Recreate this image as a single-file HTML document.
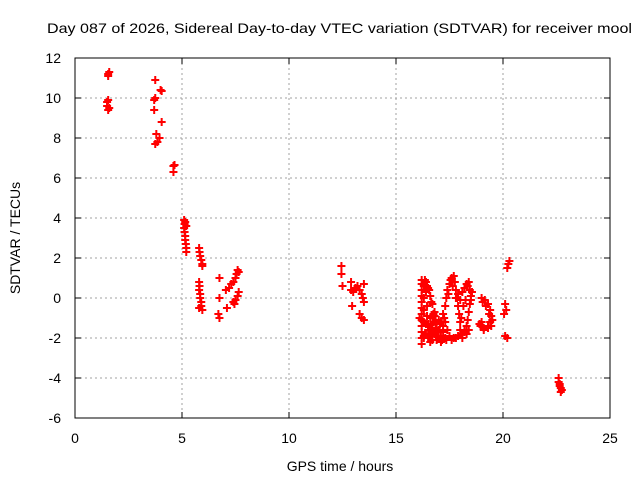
<!DOCTYPE html>
<html><head><meta charset="utf-8"><style>
body{margin:0;background:#fff}
svg{display:block;font-family:"Liberation Sans",sans-serif}
</style></head><body>
<svg id="c" width="640" height="480"></svg>
<script>
const xTicks=[0,5,10,15,20,25];
const yTicks=[-6,-4,-2,0,2,4,6,8,10,12];
const hours=[1.55,1.6,1.55,1.5,1.55,1.5,1.55,1.6,
3.75,3.7,3.75,3.7,3.8,3.75,3.85,4.0,4.05,4.05,3.95,4.6,4.6,4.65,
5.1,5.12,5.1,5.12,5.15,5.15,5.18,5.2,5.2,5.15,5.2,
5.8,5.82,5.85,5.9,5.95,5.95,5.8,5.82,5.8,5.85,5.85,5.9,5.9,5.95,5.8,
6.75,6.75,6.7,6.75,7.05,7.2,7.1,7.3,7.4,7.5,7.55,7.6,7.65,7.45,7.5,7.6,7.65,7.4,
12.45,12.45,12.5,12.9,12.9,13.0,13.1,13.2,13.3,13.4,13.5,13.45,13.5,12.95,13.3,13.4,13.5,
22.6,22.6,22.65,22.7,22.7,22.75,22.65,
16.2,16.2,16.2,16.2,16.2,16.2,16.2,16.2,16.2,16.2,16.2,16.2,16.3,16.3,16.3,16.3,16.3,
16.4,16.5,16.6,16.7,16.8,16.85,16.9,16.95,
16.5,16.7,16.9,17.1,17.3,17.5,17.7,17.9,18.1,18.3,
17.0,17.1,17.2,17.3,17.35,17.4,17.5,17.6,17.7,
17.75,17.8,17.85,17.9,17.95,18.0,18.0,
16.1,16.4,16.5,16.3,16.6,16.7,17.2,
18.1,18.2,18.35,18.45,18.5,18.45,18.4,18.35,18.3,
19.0,19.15,19.3,19.4,19.45,19.4,19.3,19.1,18.95,
20.1,20.15,20.05,20.2,20.25,20.3,20.1,20.2,
16.45,16.45,16.5,16.55,16.6,16.65,16.7,16.75,16.8,
16.4,16.5,16.6,16.7,16.8,16.9,17.0,17.05,
17.1,17.2,17.25,17.3,17.4,17.45,17.55,17.65,17.8,17.9,18.0,
18.05,18.15,18.25,18.3,18.4,18.55,18.5,18.2,18.1,
16.35,16.4,16.45,16.55,16.65,16.75,16.85,17.0,17.15,17.35,17.6,17.8,18.2,18.4,
19.05,19.2,19.35,19.5,19.3,19.1,19.0,18.9,19.45];
const sdtvar=[11.1,11.3,11.2,9.8,9.9,9.6,9.4,9.5,
10.9,9.9,10.0,9.4,8.2,7.7,7.8,10.4,10.35,8.8,8.0,6.6,6.3,6.65,
3.9,3.7,3.5,3.3,3.1,2.9,2.7,2.5,2.3,3.8,3.6,
2.5,2.3,2.1,1.9,1.7,1.6,0.8,0.6,0.4,0.2,0,-0.2,-0.4,-0.6,-0.5,
1.0,0,-0.8,-1.0,0.4,0.5,-0.5,0.7,0.8,1.0,1.2,1.4,1.3,-0.3,-0.1,0.1,0.3,-0.2,
1.6,1.2,0.6,0.8,0.4,0.3,0.5,0.6,0.4,0.2,0.7,0.0,-0.2,-0.4,-0.8,-1.0,-1.1,
-4.0,-4.2,-4.3,-4.5,-4.7,-4.6,-4.4,
-2.3,-2.0,-1.7,-1.4,-1.1,-0.8,-0.5,-0.2,0.1,0.4,0.7,0.9,-1.9,-1.2,-0.6,0,0.6,
0.8,0.5,0.1,-0.3,-0.7,-1.1,-1.5,-1.9,
-2.0,-2.1,-2.1,-2.2,-2.0,-1.9,-2.0,-1.9,-1.8,-1.8,
-1.6,-1.2,-0.8,-0.4,0,0.4,0.7,1.0,1.1,
0.8,0.4,0,-0.4,-0.8,-1.2,-1.6,
-1.0,-1.3,-1.6,-2.0,-1.0,-1.5,-1.7,
0.3,0.5,0.6,0.4,0.1,-0.3,-0.7,-1.1,-1.4,
0,-0.1,-0.3,-0.6,-0.9,-1.2,-1.4,-1.5,-1.4,
-0.3,-0.6,-0.8,1.5,1.7,1.85,-1.9,-2.0,
-0.4,-0.9,-1.3,-1.8,-2.2,-1.9,-1.6,-1.2,-0.9,
-1.8,-1.4,-1.8,-1.7,-1.8,-1.7,-2.0,-1.3,
-1.9,-1.4,-1.0,-1.2,-1.6,0.2,0.9,0.6,0.0,0.2,-0.1,
-1.0,-0.4,-0.1,0.7,0.8,0.3,-0.1,-1.6,-2.0,
0.9,0.3,0.6,0.4,-0.2,-0.8,-1.3,-1.1,-2.1,-2.1,-2.1,-2.0,-1.7,-1.6,
-0.2,-0.4,-0.8,-1.1,-1.5,-1.6,-1.2,-1.3,-1.4];
const L=75,R=610,T=58,B=418;
const xs=h=>L+(h-0)/25*(R-L);
const ys=v=>B-(v+6)/18*(B-T);
const svg=document.getElementById('c');
const NS='http://www.w3.org/2000/svg';
function mk(tag,at,txt){const e=document.createElementNS(NS,tag);for(const k in at)e.setAttribute(k,at[k]);if(txt!==undefined)e.textContent=txt;svg.appendChild(e);return e;}
for(const t of xTicks){const x=xs(t);
 if(t>0&&t<25){const g=mk('line',{x1:x,x2:x,y1:T,y2:B,stroke:'#a0a0a0','stroke-dasharray':'2,3'});
 
 }
 mk('line',{x1:x,x2:x,y1:B,y2:B-6,stroke:'#000'});mk('line',{x1:x,x2:x,y1:T,y2:T+6,stroke:'#000'});
 const l=mk('text',{x:x,y:443,'text-anchor':'middle','font-size':'14'},String(t));
 
 }
for(const t of yTicks){const y=ys(t);
 if(t>-6&&t<12){const g=mk('line',{x1:L,x2:R,y1:y,y2:y,stroke:'#a0a0a0','stroke-dasharray':'2,3'});
 
 }
 mk('line',{x1:L,x2:L+6,y1:y,y2:y,stroke:'#000'});mk('line',{x1:R,x2:R-6,y1:y,y2:y,stroke:'#000'});
 const l=mk('text',{x:61,y:y+5,'text-anchor':'end','font-size':'14'},String(t));
 
 }
const fr=mk('rect',{x:L,y:T,width:R-L,height:B-T,fill:'none',stroke:'#000'});


for(let i=0;i<hours.length;i++){const x=xs(hours[i]),y=ys(sdtvar[i]);
 const p=mk('path',{d:`M${x-4},${y}h8M${x},${y-4}v8`,stroke:'#f00','stroke-width':'2'});
 
 }
const tt=mk('text',{x:47,y:33,'font-size':'14',textLength:'585',lengthAdjust:'spacingAndGlyphs'},'Day 087 of 2026, Sidereal Day-to-day VTEC variation (SDTVAR) for receiver mool');


const xt=mk('text',{x:340,y:471,'text-anchor':'middle','font-size':'14'},'GPS time / hours');


const yt=mk('text',{x:0,y:0,'text-anchor':'middle','font-size':'14',transform:'translate(20,238) rotate(-90)'},'SDTVAR / TECUs');


</script>
</body></html>
